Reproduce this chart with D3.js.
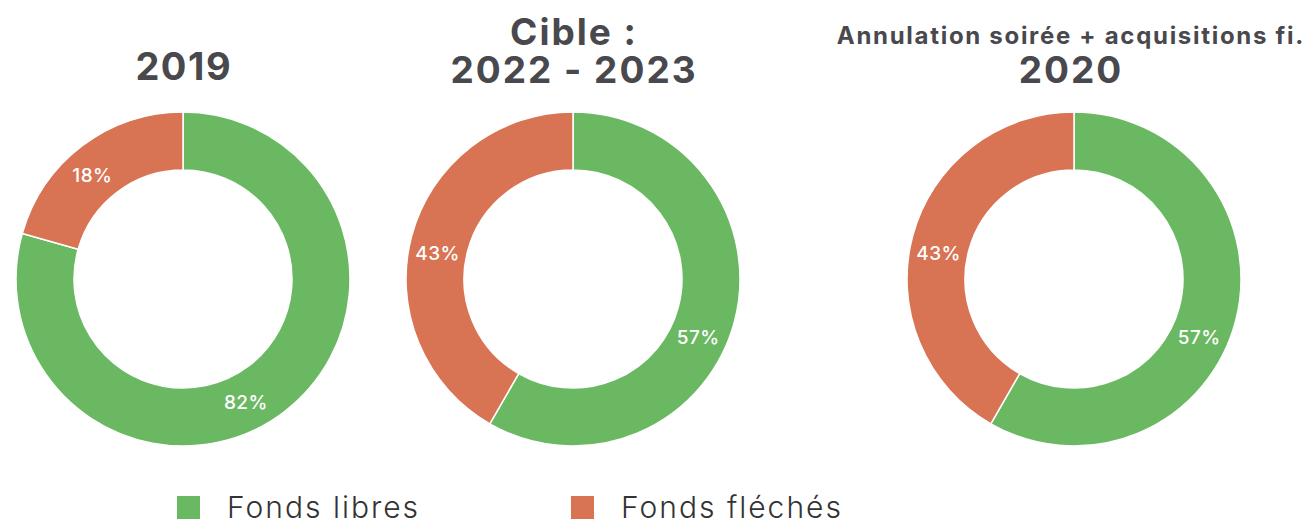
<!DOCTYPE html>
<html>
<head>
<meta charset="utf-8">
<script src="https://cdn.jsdelivr.net/npm/d3@7"></script>
<style>
  body { margin: 0; background: #fff; }
  svg { display: block; font-family: Inter, "Noto Sans", sans-serif; }
</style>
</head>
<body>
<svg id="chart" width="1307" height="523"></svg>
<script>
// Series names and colours
var categories = ["Fonds libres", "Fonds fléchés"];
var colors = ["#6bb863", "#d87354"];

// One entry per donut: slice sizes as drawn, and the printed labels
var titles = [["2019"], ["Cible :", "2022 - 2023"], ["Annulation soirée + acquisitions fi.", "2020"]];
var values2019 = [79.4, 20.6];
var valuesCible = [58.3, 41.7];
var values2020 = [58.3, 41.7];
var labels2019 = ["82%", "18%"];
var labelsCible = ["57%", "43%"];
var labels2020 = ["57%", "43%"];

var allValues = [values2019, valuesCible, values2020];
var allLabels = [labels2019, labelsCible, labels2020];

var svg = d3.select("#chart");

// Where the donuts sit
var centers = [183, 573, 1074];
var cy = 279, outerR = 167, innerR = 109, labelR = 138;

var pie = d3.pie().sort(null).value(function(d){ return d; });
var arc = d3.arc().innerRadius(innerR).outerRadius(outerR);
var color = d3.scaleOrdinal().domain([0, 1]).range(colors);

// The labels sit a little off the slice middle (green turned clockwise, orange the other way)
var labelTurn = [10, -4];

allValues.forEach(function(vals, i){
    var g = svg.append("g")
        .attr("transform", "translate(" + centers[i] + "," + cy + ")");

    var slices = pie(vals);

    g.selectAll("path")
        .data(slices)
        .enter().append("path")
            .attr("d", arc)
            .attr("fill", function(d, j){ return color(j); })
            .attr("stroke", "#fff")
            .attr("stroke-width", 1.5);

    g.selectAll("text.pct")
        .data(slices)
        .enter().append("text")
            .attr("class", "pct")
            .attr("transform", function(d, j){
                var a = (d.startAngle + d.endAngle) / 2 + labelTurn[j] * Math.PI / 180;
                return "translate(" + (labelR * Math.sin(a)) + "," + (-labelR * Math.cos(a)) + ")";
            })
            .attr("dy", "0.36em")
            .attr("text-anchor", "middle")
            .attr("fill", "#fff")
            .attr("font-size", "19px")
            .attr("font-weight", 500)
            .attr("letter-spacing", "0.4px")
            .text(function(d, j){ return allLabels[i][j]; });
});

// Titles above each donut
var titleStyle = [
    [{y: 80, size: 38, ls: 1.5}],
    [{y: 45, size: 37, ls: 2}, {y: 83, size: 37, ls: 2}],
    [{y: 44, size: 24, ls: 1.7}, {y: 83, size: 37, ls: 2}]
];
titles.forEach(function(lines, i){
    lines.forEach(function(line, k){
        var st = titleStyle[i][k];
        svg.append("text")
            .attr("x", (i == 2 ? 1070 : centers[i]) + st.ls / 2)
            .attr("y", st.y)
            .attr("text-anchor", "middle")
            .attr("fill", "#48484d")
            .attr("font-size", st.size + "px")
            .attr("font-weight", 700)
            .attr("letter-spacing", st.ls + "px")
            .text(line);
    });
});

// Legend
var legendX = [177, 571];
categories.forEach(function(cat, i){
    svg.append("rect")
        .attr("x", legendX[i])
        .attr("y", 496)
        .attr("width", 23)
        .attr("height", 23)
        .attr("fill", colors[i]);

    svg.append("text")
        .attr("x", legendX[i] + 50)
        .attr("y", 518)
        .attr("fill", "#333")
        .attr("font-size", "30px")
        .attr("font-weight", 300)
        .attr("letter-spacing", "2px")
        .text(cat);
});
</script>
</body>
</html>
